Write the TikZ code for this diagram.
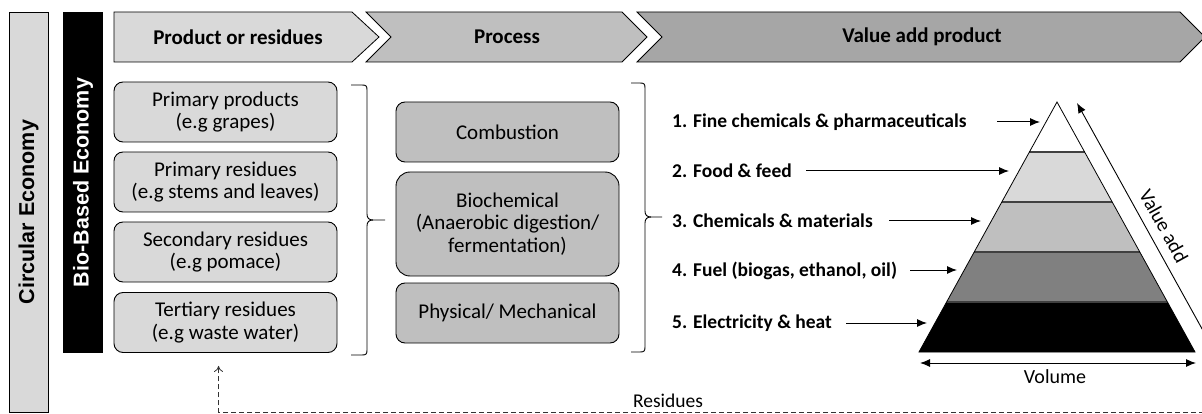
\documentclass[tikz,border=0pt]{standalone}
\usepackage{fontspec}
\setmainfont{Carlito}
\newfontfamily\arialfont{Liberation Sans}
\usetikzlibrary{arrows.meta,calc}
\definecolor{lg}{HTML}{D9D9D9}
\definecolor{mg}{HTML}{BFBFBF}
\definecolor{dg}{HTML}{A6A6A6}
\definecolor{vg}{HTML}{808080}
\begin{document}
\begin{tikzpicture}[x=1pt,y=-1pt,
  boxtext/.style={font=\fontsize{21}{22.5}\selectfont, align=center},
  srcbox/.style={boxtext, draw, line width=0.9pt, fill=lg, rounded corners=9pt,
    minimum width=223pt, minimum height=60pt, inner sep=0pt},
  procbox/.style={srcbox, fill=mg},
  chev/.style={draw, line width=0.8pt},
  headtext/.style={font=\bfseries\fontsize{21}{22}\selectfont},
  itemtext/.style={font=\bfseries\fontsize{19.5}{21}\selectfont, anchor=west, inner sep=0pt},
  parr/.style={-{Latex[length=10pt,width=8pt]}, line width=1pt},
  brace/.style={line width=0.9pt},
  sidebar/.style={font=\arialfont\bfseries\fontsize{21.5}{22}\selectfont, rotate=90, inner sep=0pt},
  resid/.style={dashed, dash pattern=on 5pt off 3pt, line width=0.8pt, black!70},
]
\useasboundingbox (0,0) rectangle (1202,414);

% side bars
\node[sidebar, draw, line width=0.8pt, fill=lg, minimum width=400pt, minimum height=39pt] (ce) at (28.5,212) {Circular Economy};
\node[sidebar, fill=black, text=white, minimum width=341pt, minimum height=40pt] (bbe) at (83,182.5) {Bio-Based Economy};

% chevrons
\draw[chev, fill=lg] (114,12) -- (352,12) -- (379,37) -- (352,62) -- (114,62) -- cycle;
\draw[chev, fill=mg] (366,12) -- (622,12) -- (647,37) -- (622,62) -- (366,62) -- (391,37) -- cycle;
\draw[chev, fill=dg] (637,12) -- (1180,12) -- (1205,37) -- (1180,62) -- (637,62) -- (662,37) -- cycle;
\node[headtext] (h1) at (238,37) {Product or residues};
\node[headtext] (h2) at (507,37) {Process};
\node[headtext] (h3) at (922,37) {Value add product};

% source boxes
\node[srcbox] (s1) at (225.5,112) {Primary products\\(e.g grapes)};
\node[srcbox] (s2) at (225.5,182) {Primary residues\\(e.g stems and leaves)};
\node[srcbox] (s3) at (225.5,252) {Secondary residues\\(e.g pomace)};
\node[srcbox] (s4) at (225.5,322.5) {Tertiary residues\\(e.g waste water)};

% process boxes
\node[procbox] (p1) at (507.5,132) {Combustion};
\node[procbox, minimum height=104pt, rounded corners=14pt] (p2) at (507.5,224) {Biochemical\\(Anaerobic digestion/\\fermentation)};
\node[procbox] (p3) at (507.5,313) {Physical/ Mechanical};

% braces
\draw[brace] (351,85) -- (362,85) .. controls (366,85) and (367,86) .. (367,90) -- (367,214)
  .. controls (367,218) and (369,220) .. (373,220) -- (385,220);
\draw[brace] (373,220) .. controls (369,220) and (367,222) .. (367,226) -- (367,350)
  .. controls (367,354) and (366,355) .. (362,355) -- (351,355);
\draw[brace] (631,83) -- (640,83) .. controls (644,83) and (645,84) .. (645,88) -- (645,211)
  .. controls (645,215) and (647,217) .. (651,217) -- (662,217);
\draw[brace] (651,217) .. controls (647,217) and (645,219) .. (645,223) -- (645,347)
  .. controls (645,351) and (644,352) .. (640,352) -- (631,352);

% items
\node[itemtext] (i1) at (672,122) {1. Fine chemicals \& pharmaceuticals};
\node[itemtext] (i2) at (672,171) {2. Food \& feed};
\node[itemtext] (i3) at (672,221) {3. Chemicals \& materials};
\node[itemtext] (i4) at (672,271) {4. Fuel (biogas, ethanol, oil)};
\node[itemtext] (i5) at (672,323) {5. Electricity \& heat};

% pyramid
\coordinate (apex) at (1057,102);
\coordinate (bl) at (919,352);
\coordinate (br) at (1195,352);
\foreach \a/\b/\c in {0/0.2/white, 0.2/0.4/lg, 0.4/0.6/mg, 0.6/0.8/vg, 0.8/1/black}{
  \fill[\c] ($(apex)!\a!(bl)$) -- ($(apex)!\b!(bl)$) -- ($(apex)!\b!(br)$) -- ($(apex)!\a!(br)$) -- cycle;
}
\foreach \a in {0.2,0.4,0.6,0.8}{
  \draw[black!75, line width=1.4pt] ($(apex)!\a!(bl)$) -- ($(apex)!\a!(br)$);
}
\draw[line width=0.8pt] (apex) -- (br) -- (bl) -- cycle;

% item arrows
\coordinate (a1s) at (997,122);  \coordinate (a1e) at (1040,122);
\coordinate (a2s) at (806,171);  \coordinate (a2e) at (1009,171);
\coordinate (a3s) at (889,221);  \coordinate (a3e) at (981,221);
\coordinate (a4s) at (910,270);  \coordinate (a4e) at (957,270);
\coordinate (a5s) at (846,323);  \coordinate (a5e) at (927,323);
\foreach \i in {1,...,5}{ \draw[parr] (a\i s) -- (a\i e); }

% value add arrow
\coordinate (vaS) at (1206,336);
\coordinate (vaE) at (1077,103);
\draw[parr, line width=0.9pt] (vaS) -- (vaE);
\node[font=\fontsize{20}{20}\selectfont, rotate=-61.1] (va) at (1164,226) {Value add};

% volume arrow
\coordinate (vl) at (920,363);
\coordinate (vr) at (1196,363);
\draw[{Latex[length=10pt,width=8pt]}-{Latex[length=10pt,width=8pt]}, line width=1pt] (vl) -- (vr);
\node[font=\fontsize{20}{20}\selectfont] (vol) at (1055,377) {Volume};

% residues
\coordinate (resR) at (1204,412);
\draw[resid, -{To[length=6pt,width=9pt]}, black!80] (resR) -| ([shift={(105,13)}]s4.south west);
\node[font=\fontsize{19.5}{20}\selectfont] (res) at (668,401) {Residues};
\end{tikzpicture}
\end{document}
